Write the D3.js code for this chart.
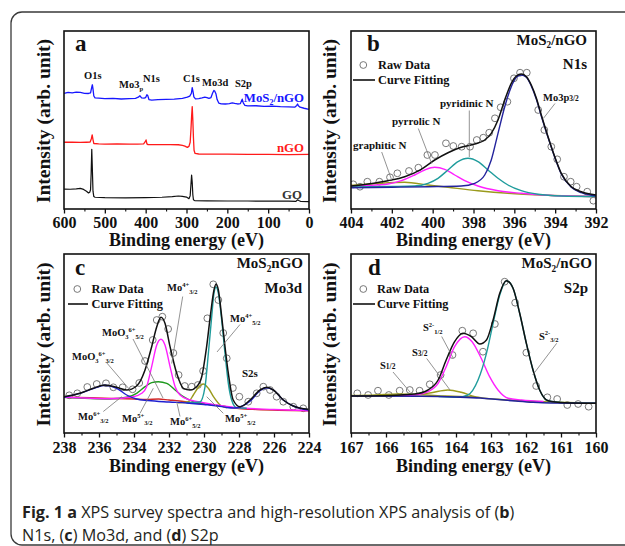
<!DOCTYPE html>
<html><head><meta charset="utf-8">
<script src="https://cdn.jsdelivr.net/npm/d3@7"></script>
<style>body{margin:0;background:#fff}svg{display:block}</style>
</head><body>
<svg id="fig" width="625" height="546"></svg>
<script>
// ---------------- DATA ----------------
// (a) XPS survey, [binding energy eV, intensity a.u.]
const surveyTicks = [600,500,400,300,200,100,0];
const surveyMinor = [550,450,350,250,150,50];
const surveyMoS2nGO = [[600,65.0],[590,65.5],[580,65.2],[570,65.6],[560,65.5],[550,65.0],[540,64.9],[535,65.3],[532,68.5],[530.5,69.8],[529,67.5],[527,63.5],[524,62.4],[515,62.3],[500,62.0],[480,62.2],[460,61.8],[440,62.0],[425,62.2],[418,62.8],[414,63.6],[410,62.4],[404,62.3],[400,62.6],[397,64.2],[395,63.8],[392,61.5],[385,61.2],[370,61.4],[350,61.6],[330,61.7],[310,62.2],[298,62.8],[292,63.4],[288,65],[286,68.2],[284,66],[282,63],[278,61.9],[270,62.0],[262,62.4],[255,62.8],[250,62.6],[245,62.1],[240,62.6],[236,65.2],[233,66.6],[231,66.3],[228,64.8],[225,61.5],[221,59.5],[215,59.1],[205,59.0],[195,59.2],[188,59.6],[182,59.3],[175,59.0],[168,59.2],[165,61.0],[163.5,61.7],[161,59.6],[157,58.2],[150,57.9],[130,58.0],[110,57.7],[90,57.8],[70,57.5],[50,57.4],[35,57.2],[30,58.2],[28,59.0],[26,58.0],[22,57.2],[12,56.6],[0,56.0]];
const surveyNGO = [[600,37.5],[580,37.6],[560,37.4],[545,37.5],[536,37.6],[533,39.5],[531,41.6],[529,39],[527,36.8],[515,36.6],[500,36.5],[470,36.6],[440,36.4],[420,36.5],[405,36.6],[401,37.8],[399,38.8],[397,36.6],[394,36.2],[370,36.2],[340,36.2],[320,36.1],[310,35.8],[304,35.3],[298,34.6],[294,35.2],[291,37.5],[289,45],[287.5,52],[286,57.5],[284.5,50],[283,40],[281.5,33],[279,31.2],[270,30.9],[240,30.8],[200,30.8],[150,30.7],[100,30.7],[50,30.6],[0,30.7]];
const surveyGO = [[600,11.2],[585,11.1],[570,11.3],[560,11.6],[552,11.0],[545,10.0],[540,9.0],[537,9.4],[535,10.8],[533.5,20],[532,33.5],[530.5,22],[529,10],[527,7.0],[524,6.6],[500,6.4],[450,6.3],[400,6.4],[360,6.6],[335,6.9],[320,7.3],[310,7.1],[300,6.7],[294,5.8],[291,7.5],[289,14],[287.5,19.1],[286,15],[284.5,8],[283,5.2],[280,4.7],[250,4.6],[200,4.5],[150,4.5],[100,4.4],[50,4.4],[32,4.3],[28,5.2],[25,4.8],[20,4.2],[0,4.1]];

// (b) N1s
const n1sTicks = [404,402,400,398,396,394,392];
const n1sMinor = [403,401,399,397,395,393];
const n1sRaw = [[403.89,24.7],[403.56,22.3],[403.20,27.3],[402.61,27.3],[402.09,31.7],[401.73,35.7],[401.16,38],[400.70,41.3],[400.26,54],[399.89,54],[399.35,65.7],[398.99,63],[398.58,62.3],[398.17,62.3],[397.84,69],[397.52,71.3],[397.23,76.3],[396.95,90.7],[396.67,101.7],[396.34,107.3],[396.02,130.7],[395.72,136.3],[395.39,136.3],[394.83,99],[394.53,79],[394.19,62.3],[393.90,49.7],[393.57,32.3],[393.24,27.3],[392.95,22.3],[392.43,17.3],[392.13,8.3]];
const n1sFit = [[404.0,23],[403.17,25],[402.19,28.3],[401.37,32.3],[400.56,39.7],[399.90,49],[399.25,56.3],[398.60,61.7],[397.94,65],[397.45,69],[397.13,75.7],[396.80,89],[396.47,109],[396.15,125.7],[395.90,133],[395.66,135],[395.41,132.3],[395.17,124],[394.92,110.7],[394.68,94],[394.35,72.3],[394.02,52.3],[393.70,35.7],[393.21,22.3],[392.72,17.3],[392.0,14]];
const n1sMo3p = [[404,21.3],[402,21.8],[400.23,22.3],[398.6,23],[397.94,25.7],[397.45,34],[397.13,49],[396.80,75.7],[396.47,102.3],[396.15,122.3],[395.90,131.7],[395.66,134],[395.41,131.7],[395.17,123],[394.92,109.7],[394.68,93],[394.35,71.7],[394.02,51.7],[393.70,35],[393.21,21.7],[392.72,16.3],[392,13]];
const n1sPyridinic = [[404,22],[402,22.5],[400.88,23],[400.23,25.7],[399.74,30.7],[399.25,39],[398.76,47.3],[398.27,50.7],[397.78,47.3],[397.29,39],[396.80,30.7],[396.31,24],[395.66,18.3],[394.84,14.7],[393.70,13],[392,12.5]];
const n1sPyrrolic = [[404,23],[403.17,23.5],[402.19,25],[401.53,28.3],[400.88,34],[400.39,39],[399.90,41.7],[399.41,39.7],[398.92,34],[398.43,28.3],[397.78,23],[396.80,18.3],[395.66,15.7],[394.35,13.7],[392,12.5]];
const n1sGraphitic = [[404,23.7],[402.84,25.3],[401.37,26.7],[400.23,24],[399.25,21.7],[397.78,18.3],[396.31,15.7],[394.35,13.7],[392,12.3]];

// (c) Mo3d
const mo3dTicks = [238,236,234,232,230,228,226,224];
const mo3dMinor = [237,235,233,231,229,227,225];
const mo3dRaw = [[237.70,37.7],[237.24,39.7],[236.67,46],[236.13,49],[235.60,49.7],[235.18,45.7],[234.65,45.7],[234.08,43.7],[233.70,50],[233.37,72],[232.93,93],[232.70,113],[232.38,116.3],[232.05,104],[231.75,80],[231.45,58],[231.10,47],[230.70,46.3],[230.35,48],[230.05,62],[229.81,114.7],[229.47,148.7],[229.18,133],[228.90,100],[228.70,74.7],[228.35,45],[227.98,36.3],[227.47,31.3],[226.99,39.7],[226.61,46.3],[226.23,43],[225.85,36.3],[225.47,31.3],[224.90,26.3],[224.33,24.7]];
const mo3dFit = [[238.0,36.3],[237.09,39.7],[236.33,44.7],[235.66,48],[234.99,45.7],[234.42,43],[233.85,47],[233.37,63],[232.99,86.3],[232.70,106.3],[232.46,115.7],[232.23,109.7],[231.94,86.3],[231.56,59.7],[231.18,44.7],[230.80,43],[230.42,46.3],[230.13,56.3],[229.85,86.3],[229.62,119.7],[229.43,143],[229.31,149],[229.18,143],[228.99,116.3],[228.80,86.3],[228.61,59.7],[228.33,33],[227.94,26.3],[227.37,33],[226.80,43],[226.42,45.7],[226.04,43],[225.47,33],[224.90,27],[224.04,23.7]];
const mo3dMoO3S2s = [[238,35.7],[237.09,39.7],[236.33,44.3],[235.66,47.7],[234.99,44.7],[234.42,38],[233.85,34],[233.2,32.5],[232,31],[231,30],[230,28.5],[229.2,27],[228.7,25.5],[228.3,25],[227.94,26],[227.37,31.7],[226.80,42.3],[226.42,45.3],[226.04,43],[225.47,33],[224.9,27],[224.04,23]];
const mo3dMo4p32 = [[238,35.7],[235.4,34.3],[234.04,36.3],[233.56,39.7],[233.28,46.3],[232.99,66.3],[232.70,88],[232.46,93.7],[232.23,88],[231.94,66.3],[231.65,46.3],[231.37,38],[230.80,33],[230.04,30.3],[229.3,28],[228.33,25.7],[226,23.5],[224,22.3]];
const mo3dMo4p52 = [[231.0,30.3],[230.23,31],[229.94,46.3],[229.75,79.7],[229.56,116.3],[229.43,139.7],[229.31,145.7],[229.18,139.7],[228.99,113],[228.80,79.7],[228.61,49.7],[228.42,33],[228.14,25.3],[227.56,24.7]];
const mo3dMo5p32 = [[238,35.7],[235.4,34],[234.42,35.7],[233.85,39.7],[233.37,46.3],[232.99,50.3],[232.61,51.3],[232.13,49.7],[231.65,43],[231.18,36.3],[230.61,31.3],[229.85,29],[228.7,26.3]];
const mo3dMo5p52 = [[231.5,30.2],[230.89,31.3],[230.61,38],[230.32,45.7],[230.04,49],[229.75,44.7],[229.46,36.3],[229.08,28],[228.70,25.3]];
const mo3dMo6p = [[238,35.7],[236.5,35.2],[235,34.5],[234,34],[233.3,33.5],[232.6,34],[232,33],[231.4,32],[230.8,30.5],[230,29],[229,27],[228,24.5],[227,23.5],[224,22.3]];

// (d) S2p
const s2pTicks = [167,166,165,164,163,162,161,160];
const s2pMinor = [166.5,165.5,164.5,163.5,162.5,161.5,160.5];
const s2pRaw = [[166.82,39.7],[166.51,38],[166.23,42.3],[165.92,38],[165.61,42.3],[165.32,43],[165.04,42.3],[164.75,48.7],[164.44,58],[164.10,78],[163.82,102.3],[163.51,99.7],[163.23,81.3],[162.89,109],[162.61,151.3],[162.31,130.3],[161.99,80.3],[161.71,47],[161.39,35.7],[161.11,34],[160.82,28],[160.51,29],[160.21,26.3]];
const s2pFit = [[167,37],[166.13,37.3],[165.18,39],[164.80,43],[164.51,53],[164.28,73],[164.04,91.3],[163.80,99.7],[163.56,96.3],[163.32,89],[163.13,93],[162.94,113],[162.75,139.7],[162.56,152.3],[162.37,144.7],[162.18,119.7],[161.99,89.7],[161.80,63],[161.61,43],[161.37,32.3],[160.89,30.3],[160,29.7]];
const s2pS2m32 = [[164.5,36.5],[163.94,35.7],[163.66,38],[163.37,53],[163.13,79.7],[162.94,109.7],[162.75,138],[162.56,152.3],[162.37,144.7],[162.18,119.7],[161.99,89.7],[161.80,63],[161.61,43],[161.37,32.3],[160.89,30.3],[160,29.7]];
const s2pS2m12 = [[165.6,37],[165.18,38],[164.80,41.3],[164.51,49.7],[164.28,66.3],[164.04,86.3],[163.75,96.3],[163.54,91.3],[163.28,74.7],[163.04,56.3],[162.80,43],[162.51,34.7],[162.13,33],[161.5,31.5]];
const s2pS32 = [[166.13,37],[165.18,38],[164.70,40.3],[164.23,43],[163.85,40.7],[163.46,36.3],[162.80,33.7],[161.85,31.7],[160,29.7]];
const s2pS12 = [[167,37.5],[166.3,38],[165.66,39],[165.0,38.3],[164.3,37],[163.5,36]];
const s2pBase = [[167,37],[165,36.7],[164,36],[163.3,35],[162.8,33.5],[162.3,32],[161.8,30.7],[161.3,30],[160,29.7]];

// ---------------- DRAW ----------------
const svg = d3.select('#fig');
const SERIF = '"Liberation Serif","Times New Roman",serif';
const C = {blue:'#1717ff', red:'#ff1a1a', black:'#111', navy:'#23239c', cblue:'#1f1fd0', teal:'#1f9c9c', magenta:'#ff20ff', olive:'#9a9a1c', green:'#1e9a1e', mored:'#d02828', gray:'#777'};

// outer border
svg.append('rect').attr('x',11).attr('y',12).attr('width',700).attr('height',533).attr('rx',11)
  .attr('fill','none').attr('stroke','#3a3a3a').attr('stroke-width',1.3);

function rich(g, x, y, parts, size, opt={}) {
  const t = g.append('text').attr('x',x).attr('y',y).attr('font-family',SERIF).attr('font-weight','bold')
    .attr('font-size',size).attr('fill',opt.fill||'#111').attr('text-anchor',opt.anchor||'start');
  let cur = 0;
  parts.forEach(p => {
    const [s,k] = Array.isArray(p) ? p : [p,''];
    const target = k==='sup' ? -0.4*size : k==='sub' ? 0.25*size : 0;
    t.append('tspan').attr('dy', target-cur).attr('font-size', k ? size*0.62 : size).text(s);
    cur = target;
  });
  return t;
}

let clipId = 0;
function panel(o) {
  const g = svg.append('g');
  const x = d3.scaleLinear().domain(o.xDomain).range([o.l,o.r]);
  const y = d3.scaleLinear().domain([0,o.yMax]).range([o.b,o.t]);
  const id = 'clip'+(clipId++);
  svg.append('clipPath').attr('id',id).append('rect').attr('x',o.l).attr('y',o.t).attr('width',o.r-o.l).attr('height',o.b-o.t);
  const plot = g.append('g').attr('clip-path',`url(#${id})`);
  const axG = g.append('g').attr('transform',`translate(0,${o.b})`)
    .call(d3.axisBottom(x).tickValues(o.major).tickSize(4.5).tickFormat(d3.format('d')));
  axG.select('.domain').remove();
  axG.selectAll('line').attr('stroke','#111').attr('stroke-width',1.3);
  axG.selectAll('text').attr('y',o.tickDy).attr('dy',0).attr('font-family',SERIF).attr('font-weight','bold')
     .attr('font-size',16).attr('fill','#111');
  const mG = g.append('g').attr('transform',`translate(0,${o.b})`)
    .call(d3.axisBottom(x).tickValues(o.minor).tickSize(2.5).tickFormat(''));
  mG.select('.domain').remove();
  mG.selectAll('line').attr('stroke','#111').attr('stroke-width',1.1);
  g.append('rect').attr('x',o.l).attr('y',o.t).attr('width',o.r-o.l).attr('height',o.b-o.t)
    .attr('fill','none').attr('stroke','#111').attr('stroke-width',1.6);
  g.append('text').attr('x',(o.l+o.r)/2).attr('y',o.b+o.titleDy).attr('text-anchor','middle')
    .attr('font-family',SERIF).attr('font-weight','bold').attr('font-size',18).attr('fill','#111').text('Binding energy (eV)');
  g.append('text').attr('transform',`translate(${o.ytX},${(o.t+o.b)/2+1}) rotate(-90)`).attr('text-anchor','middle')
    .attr('font-family',SERIF).attr('font-weight','bold').attr('font-size',19.5).attr('fill','#111').text('Intensity (arb. unit)');
  const lineS = d3.line().x(d=>x(d[0])).y(d=>y(d[1])).curve(o.curve||d3.curveMonotoneX);
  return {g, plot, x, y,
    line(data, color, w=1.4){ plot.append('path').datum(data).attr('d',lineS).attr('fill','none').attr('stroke',color).attr('stroke-width',w).attr('stroke-linejoin','round'); },
    dots(data){ plot.selectAll(null).data(data).enter().append('circle').attr('cx',d=>x(d[0])).attr('cy',d=>y(d[1])).attr('r',3.4)
       .attr('fill','none').attr('stroke','#6a6a6a').attr('stroke-width',0.9); }
  };
}
function lead(g, x1,y1,x2,y2){ g.append('line').attr('x1',x1).attr('y1',y1).attr('x2',x2).attr('y2',y2).attr('stroke',C.gray).attr('stroke-width',0.8); }
function legend(g, cx, cy, tx, ty1, lx1, lx2, ly, ty2){
  g.append('circle').attr('cx',cx).attr('cy',cy).attr('r',3.4).attr('fill','none').attr('stroke','#6a6a6a').attr('stroke-width',0.9);
  rich(g, tx, ty1, ['Raw Data'], 12.3);
  g.append('line').attr('x1',lx1).attr('x2',lx2).attr('y1',ly).attr('y2',ly).attr('stroke','#111').attr('stroke-width',1.6);
  rich(g, tx, ty2, ['Curve Fitting'], 12.3);
}

// ---- panel a ----
const A = panel({l:64,t:31,r:309,b:209,xDomain:[600,0],yMax:100,major:surveyTicks,minor:surveyMinor,tickDy:19,titleDy:37,ytX:50,curve:d3.curveLinear});
A.line(surveyGO, C.black, 1.2);
A.line(surveyNGO, C.red, 1.3);
A.line(surveyMoS2nGO, C.blue, 1.3);
rich(A.g, 75, 51, ['a'], 23);
rich(A.g, 84, 79, ['O1s'], 10.5);
rich(A.g, 119, 88, ['Mo3',['p','sub']], 10.5);
rich(A.g, 143, 82, ['N1s'], 10.5);
rich(A.g, 183, 82, ['C1s'], 10.5);
rich(A.g, 202, 86, ['Mo3d'], 10.5);
rich(A.g, 235, 87, ['S2p'], 10.5);
rich(A.g, 304, 101.5, ['MoS',['2','sub'],'/nGO'], 12.8, {fill:C.blue, anchor:'end'});
rich(A.g, 304, 151.5, ['nGO'], 12.8, {fill:C.red, anchor:'end'});
rich(A.g, 302, 199, ['GO'], 12.8, {fill:'#333', anchor:'end'});

// ---- panel b ----
const B = panel({l:351,t:31,r:596,b:209,xDomain:[404,392],yMax:178,major:n1sTicks,minor:n1sMinor,tickDy:19,titleDy:37,ytX:336});
B.dots(n1sRaw);
B.line(n1sGraphitic, C.olive);
B.line(n1sPyrrolic, C.magenta);
B.line(n1sPyridinic, C.teal);
B.line(n1sMo3p, C.navy);
B.line(n1sFit, C.black, 1.5);
rich(B.g, 367, 51, ['b'], 23);
rich(B.g, 587, 44.5, ['MoS',['2','sub'],'/nGO'], 15, {anchor:'end'});
rich(B.g, 587, 68.5, ['N1s'], 15, {anchor:'end'});
legend(B.g, 363.3, 65, 378, 69, 353, 375, 80, 84);
rich(B.g, 440, 107, ['pyridinic N'], 11);
rich(B.g, 392, 124.5, ['pyrrolic N'], 11);
rich(B.g, 353, 148.5, ['graphitic N'], 11);
rich(B.g, 543, 101, ['Mo3p',['3/2','']], 10.5).selectAll('tspan').filter((d,i)=>i===1).attr('font-size',7.5);
lead(B.g, 469.3,110.5,469.3,157);
lead(B.g, 418.3,128.5,431.7,163.5);
lead(B.g, 381.7,152,391.7,180);
lead(B.g, 555,103.5,543.3,118.5);

// ---- panel c ----
const Cc = panel({l:64,t:254,r:309,b:433,xDomain:[238,224],yMax:179,major:mo3dTicks,minor:mo3dMinor,tickDy:19.5,titleDy:38.5,ytX:50});
Cc.dots(mo3dRaw);
Cc.line(mo3dMo6p, C.mored);
Cc.line(mo3dMo5p32, C.green);
Cc.line(mo3dMo5p52, C.olive);
Cc.line(mo3dMo4p32, C.magenta);
Cc.line(mo3dMo4p52, C.teal);
Cc.line(mo3dMoO3S2s, C.cblue);
Cc.line(mo3dFit, C.black, 1.5);
rich(Cc.g, 75, 275, ['c'], 23);
rich(Cc.g, 303, 268, ['MoS',['2','sub'],'nGO'], 15, {anchor:'end'});
rich(Cc.g, 302, 293, ['Mo3d'], 15, {anchor:'end'});
legend(Cc.g, 77.3, 289, 91.5, 293, 68, 88, 304, 308);
rich(Cc.g, 167, 291, ['Mo',['4+','sup'],['3/2','sub']], 10.5);
rich(Cc.g, 102, 336, ['MoO',['3','sub'],['6+','sup'],['5/2','sub']], 10.5);
rich(Cc.g, 72, 360, ['MoO',['3','sub'],['6+','sup'],['3/2','sub']], 10.5);
rich(Cc.g, 230, 322, ['Mo',['4+','sup'],['5/2','sub']], 10.5);
rich(Cc.g, 242, 377, ['S2s'], 11);
rich(Cc.g, 78, 420, ['Mo',['6+','sup'],['3/2','sub']], 10.5);
rich(Cc.g, 122, 422, ['Mo',['5+','sup'],['3/2','sub']], 10.5);
rich(Cc.g, 170, 425, ['Mo',['6+','sup'],['5/2','sub']], 10.5);
rich(Cc.g, 225, 422, ['Mo',['5+','sup'],['5/2','sub']], 10.5);
lead(Cc.g, 182.7,296.5,171.7,363.5);
lead(Cc.g, 133,339,163,398);
lead(Cc.g, 106,362,130,390);
lead(Cc.g, 240,324.5,217,352);
lead(Cc.g, 103.3,411.5,121.7,396.7);
lead(Cc.g, 140,413.3,153.3,388.3);
lead(Cc.g, 180,416.5,176.7,401.7);
lead(Cc.g, 223.3,413.3,206.7,396.7);

// ---- panel d ----
const D = panel({l:351,t:254,r:596,b:433,xDomain:[167,160],yMax:179,major:s2pTicks,minor:s2pMinor,tickDy:19.5,titleDy:38.5,ytX:336});
D.dots(s2pRaw);
D.line(s2pS12, C.olive);
D.line(s2pS32, C.olive);
D.line(s2pS2m12, C.magenta);
D.line(s2pS2m32, C.teal);
D.line(s2pBase, C.navy, 1.6);
D.line(s2pFit, C.black, 1.5);
rich(D.g, 368, 275, ['d'], 23);
rich(D.g, 592, 268, ['MoS',['2','sub'],'/nGO'], 15, {anchor:'end'});
rich(D.g, 588, 293, ['S2p'], 15, {anchor:'end'});
legend(D.g, 363.3, 289, 377, 293, 353, 375, 304, 308);
rich(D.g, 423, 331, ['S',['2-','sup'],['1/2','sub']], 10.5);
rich(D.g, 412, 355.5, ['S',['3/2','']], 10.5).selectAll('tspan').filter((d,i)=>i===1).attr('font-size',7.5);
rich(D.g, 380, 368.5, ['S',['1/2','']], 10.5).selectAll('tspan').filter((d,i)=>i===1).attr('font-size',7.5);
rich(D.g, 539, 339.5, ['S',['2-','sup'],['3/2','sub']], 10.5);
lead(D.g, 393,372,410,392);
lead(D.g, 426.7,358.5,450,390);
lead(D.g, 441.7,336.5,453.3,358.3);
lead(D.g, 556.7,343.3,532.7,375);

// ---- caption ----
const cap = svg.append('g').attr('font-family','"Open Sans","Noto Sans",sans-serif').attr('fill','#231f20');
const c1 = cap.append('text').attr('x',22).attr('y',518).attr('font-size',16.2);
c1.append('tspan').attr('font-weight','bold').text('Fig. 1 a');
c1.append('tspan').text(' XPS survey spectra and high-resolution XPS analysis of (');
c1.append('tspan').attr('font-weight','bold').text('b');
c1.append('tspan').text(')');
const c2 = cap.append('text').attr('x',22).attr('y',541).attr('font-size',16.2);
c2.append('tspan').text('N1s, (');
c2.append('tspan').attr('font-weight','bold').text('c');
c2.append('tspan').text(') Mo3d, and (');
c2.append('tspan').attr('font-weight','bold').text('d');
c2.append('tspan').text(') S2p');
</script>
</body></html>
